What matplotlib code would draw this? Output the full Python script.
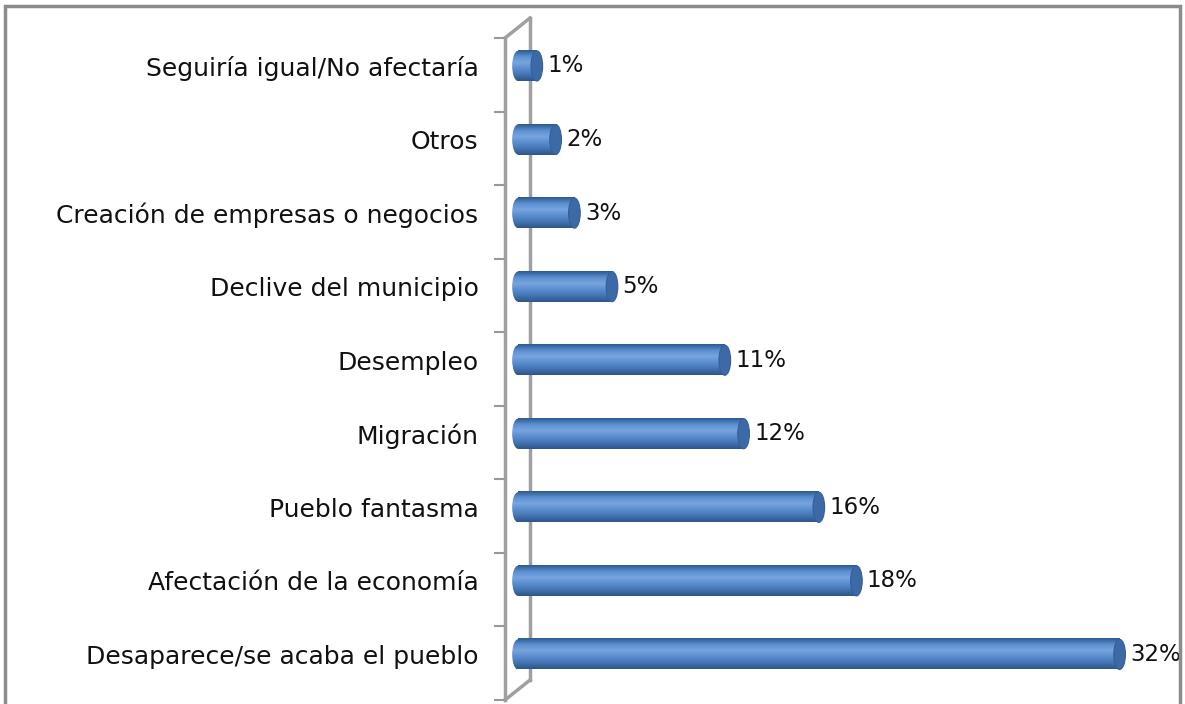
import numpy as np
import matplotlib
matplotlib.use("Agg")
import matplotlib.pyplot as plt
from matplotlib.patches import Ellipse, Rectangle
from matplotlib.lines import Line2D
from matplotlib.colors import LinearSegmentedColormap

categories = [
    "Seguiría igual/No afectaría",
    "Otros",
    "Creación de empresas o negocios",
    "Declive del municipio",
    "Desempleo",
    "Migración",
    "Pueblo fantasma",
    "Afectación de la economía",
    "Desaparece/se acaba el pueblo",
]
values = [1, 2, 3, 5, 11, 12, 16, 18, 32]
value_labels = ["1%", "2%", "3%", "5%", "11%", "12%", "16%", "18%", "32%"]

W, H = 1185, 704
fig = plt.figure(figsize=(W / 100, H / 100), dpi=100)

# plot area in pixels (front plane of the side wall)
x0, x1 = 505, 1180
y_top, y_bot = 38, 700
ax = fig.add_axes([x0 / W, (H - y_bot) / H, (x1 - x0) / W, (y_bot - y_top) / H])

px_per_unit = 18.8
zero_px = 518
xmin = (x0 - zero_px) / px_per_unit
xmax = (x1 - zero_px) / px_per_unit

n = len(categories)
ypos = np.arange(n)[::-1].astype(float)
shift = 0.12          # bars sit a little back, on the floor of the depth
bar_h = 0.41
cap_w = 0.62

font = {"family": "DejaVu Sans", "size": 18}

bars = ax.barh(ypos + shift, values, height=bar_h, color="#4f81bd", zorder=3)

# vertical shading for the cylinder look
cmap = LinearSegmentedColormap.from_list(
    "cyl", ["#2d5a8e", "#5b8fd2", "#78a5df", "#5a8ccf", "#4474b3", "#2e5688"])
grad = np.linspace(0, 1, 64).reshape(-1, 1)

for b, v, lab in zip(bars, values, value_labels):
    yc = b.get_y() + b.get_height() / 2
    lo, hi = b.get_y(), b.get_y() + b.get_height()
    # left rounded end
    e_left = Ellipse((0, yc), cap_w, bar_h, facecolor="none", edgecolor="none", zorder=3)
    ax.add_patch(e_left)
    im = ax.imshow(grad, extent=[-cap_w / 2, 0.01, lo, hi], cmap=cmap,
                   aspect="auto", origin="upper", zorder=3, interpolation="bilinear")
    im.set_clip_path(e_left)
    ax.imshow(grad, extent=[0, v, lo, hi], cmap=cmap, aspect="auto",
              origin="upper", zorder=3.1, interpolation="bilinear")
    # right end face
    ax.add_patch(Ellipse((v, yc), cap_w, bar_h, facecolor="#3d6aa6",
                         edgecolor="#34609a", lw=0.8, zorder=3.2))
    ax.text(v + cap_w / 2 + 0.25, yc, lab, va="center", ha="left",
            color="#111111", zorder=4, family="DejaVu Sans", size=16.5)

ax.set_xlim(xmin, xmax)
ax.set_ylim(-0.5, n - 0.5)
ax.set_xticks([])
ax.set_yticks(ypos + shift)
ax.set_yticklabels(categories, **font)
ax.set_yticks(np.arange(n + 1) - 0.5, minor=True)
ax.tick_params(axis="y", which="major", length=0, pad=19, colors="#111111")
ax.tick_params(axis="y", which="minor", length=8, width=1.5, color="#999999")
for s in ax.spines.values():
    s.set_visible(False)
ax.patch.set_alpha(0)

# side wall: front edge, back edge and the two connecting diagonals
dx = 25 / (x1 - x0)
dy = 20 / (y_bot - y_top)
wall = dict(color="#a0a0a0", lw=2.5, transform=ax.transAxes, clip_on=False, zorder=1)
for xs, ys in [((0, 0), (0, 1)), ((dx, dx), (dy, 1 + dy)),
               ((0, dx), (1, 1 + dy)), ((0, dx), (0, dy))]:
    ax.add_line(Line2D(xs, ys, **wall))

# outer chart frame (bottom edge falls outside the image)
fig.add_artist(Rectangle((5 / W, -0.05), 1175 / W, (H - 6) / H + 0.05,
                         transform=fig.transFigure, fill=False,
                         edgecolor="#8c8c8c", lw=2.5))

fig.savefig("out.png", dpi=100)
